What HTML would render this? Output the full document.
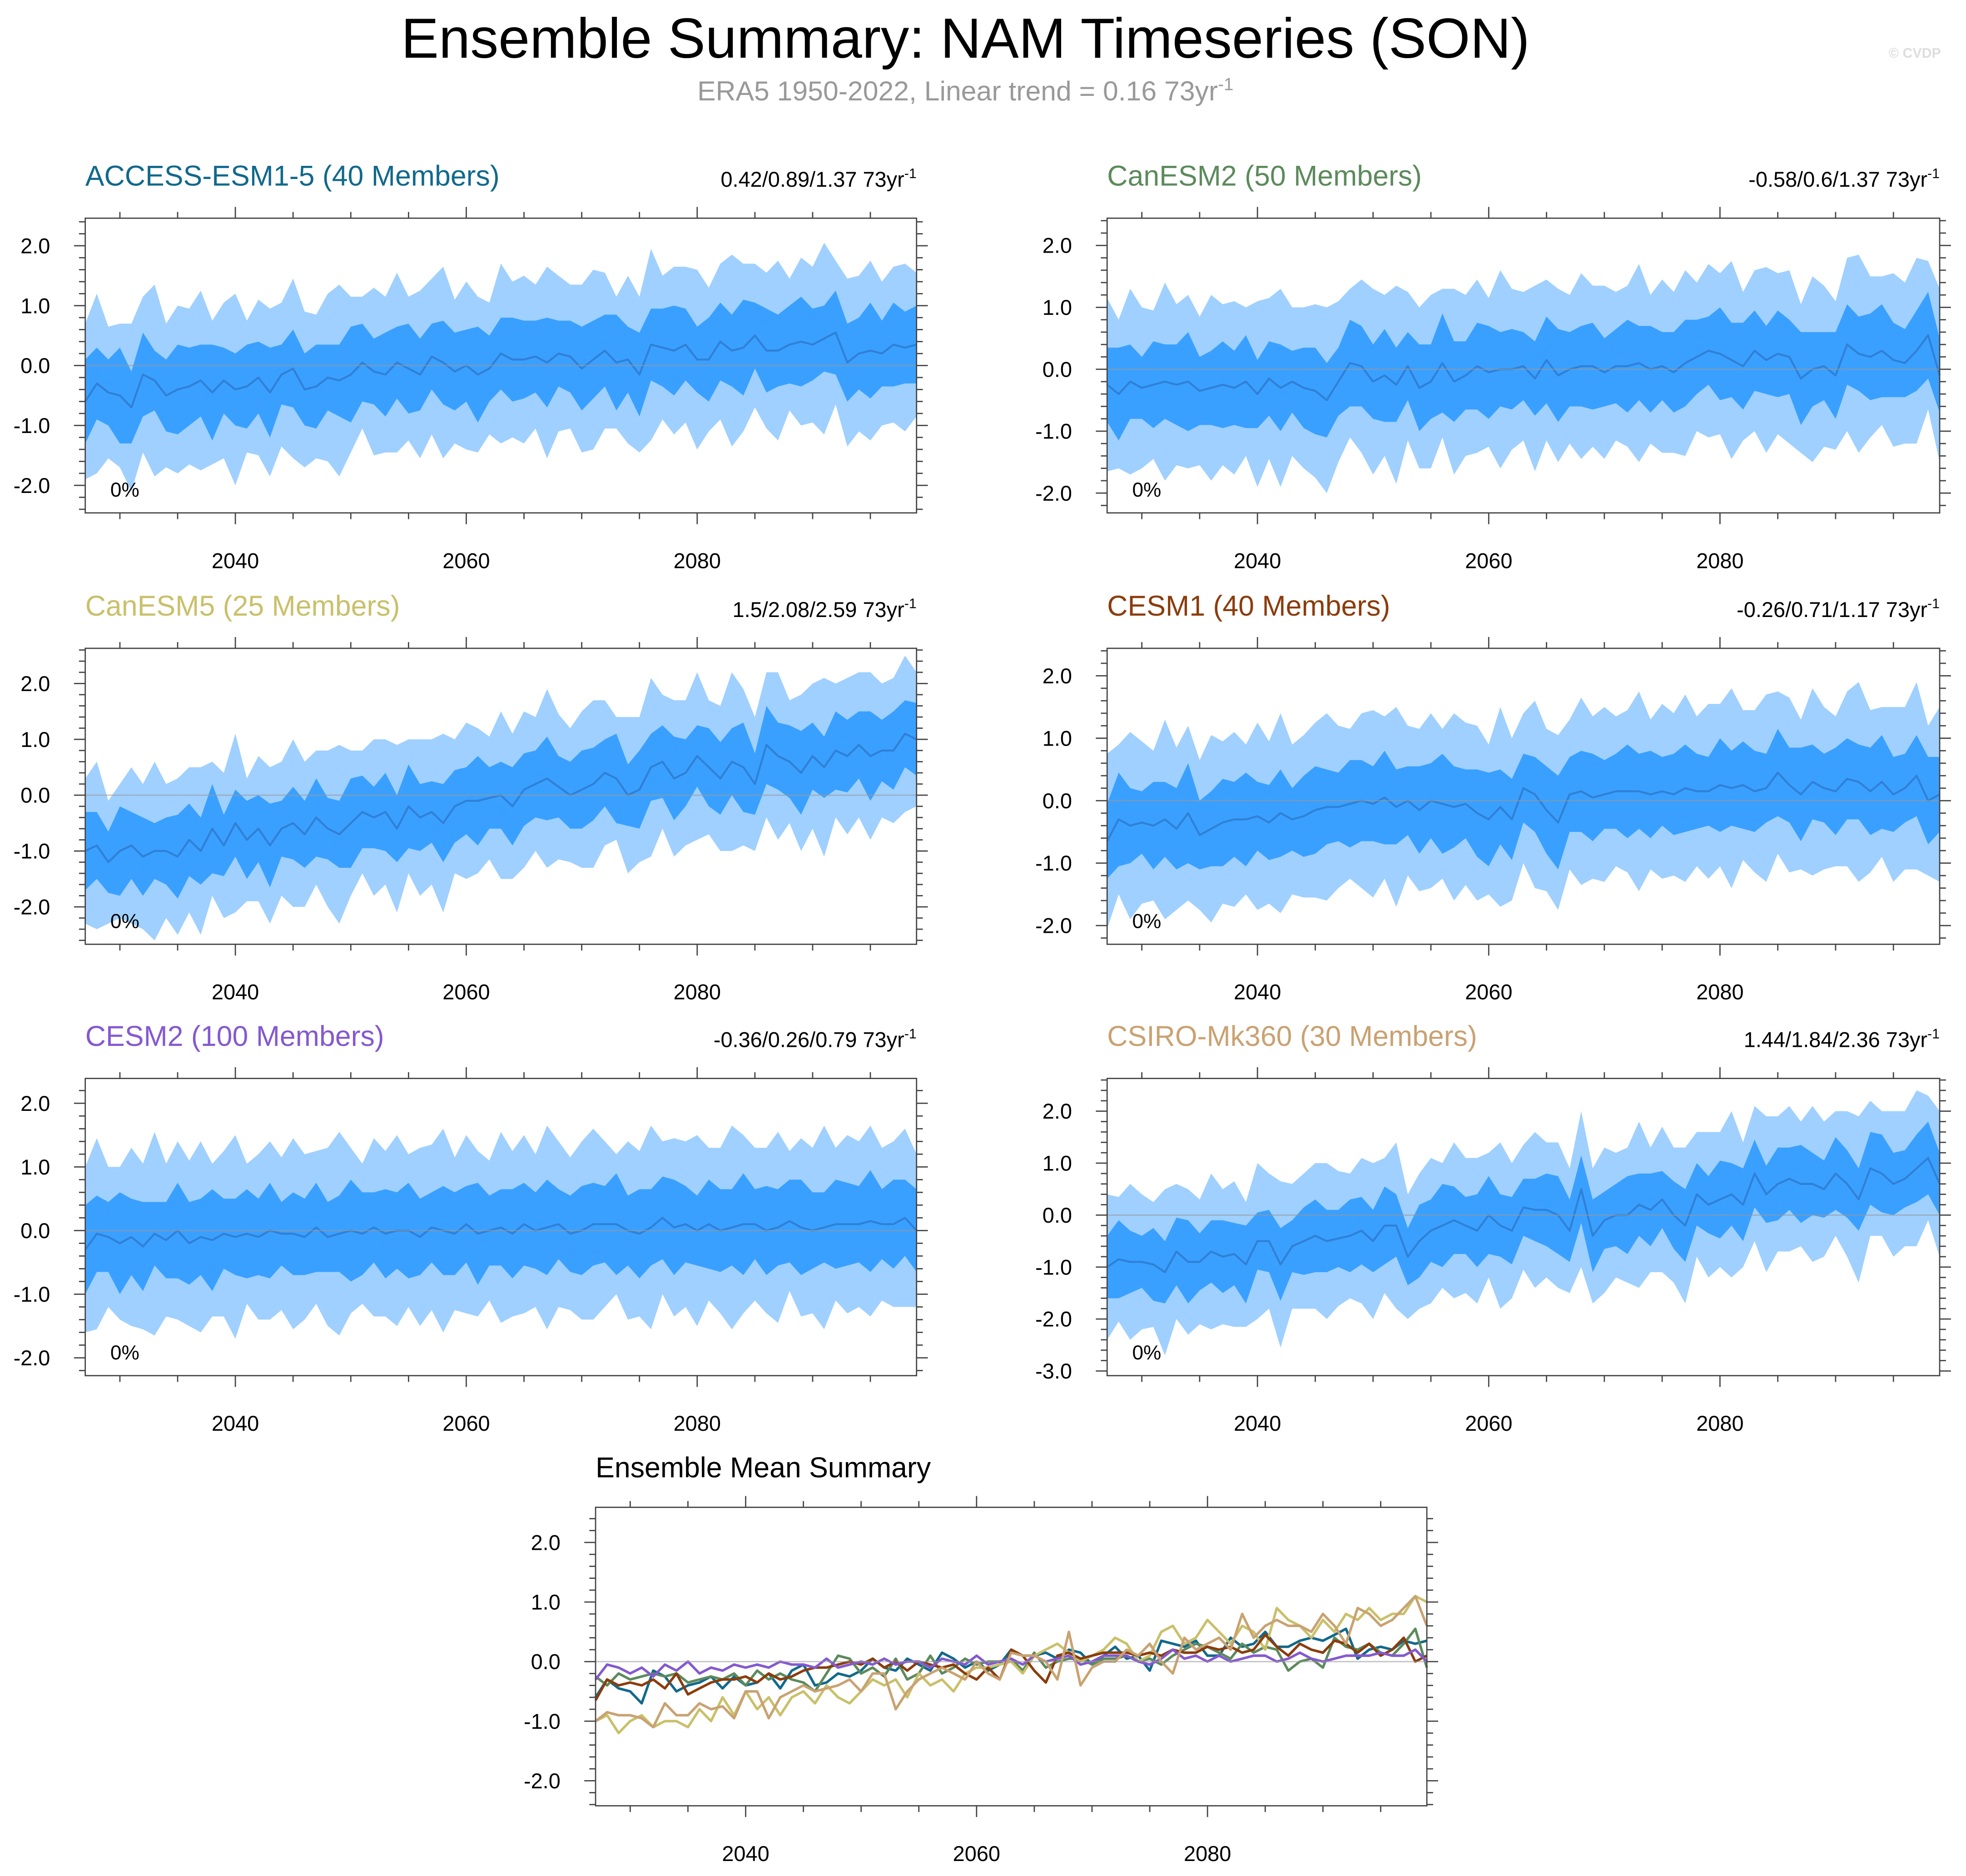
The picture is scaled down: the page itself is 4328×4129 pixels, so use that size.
<!DOCTYPE html>
<html><head><meta charset="utf-8">
<style>
html,body{margin:0;padding:0;background:#fff;}
svg{display:block;font-family:"Liberation Sans",sans-serif;}
</style></head>
<body>
<svg id="chart" width="4328" height="4129" viewBox="0 0 1568 1496" preserveAspectRatio="none" xmlns="http://www.w3.org/2000/svg">
<rect width="1568" height="1496" fill="#fff"/>
<text x="770" y="46" font-size="45" text-anchor="middle" fill="#000">Ensemble Summary: NAM Timeseries (SON)</text>
<text x="770" y="80" font-size="22" text-anchor="middle" fill="#999">ERA5 1950-2022, Linear trend = 0.16 73yr<tspan dy="-8" font-size="14">-1</tspan></text>
<text x="1548" y="46" font-size="11" text-anchor="end" fill="#ddd" font-weight="bold">© CVDP</text>
</svg>
<script>
const years0 = 2027, years1 = 2099;
const xTicks = [2040, 2060, 2080];
const meanAccess = [-0.6,-0.3,-0.45,-0.5,-0.7,-0.15,-0.25,-0.5,-0.4,-0.35,
-0.25,-0.45,-0.25,-0.4,-0.35,-0.2,-0.45,-0.15,-0.05,-0.4,
-0.35,-0.2,-0.25,-0.15,0.05,-0.1,-0.15,0.05,-0.05,-0.15,
0.15,0.05,-0.1,0.0,-0.15,-0.05,0.2,0.1,0.1,0.15,
0.05,0.2,0.15,-0.05,0.1,0.25,0.05,0.1,-0.15,0.35,
0.3,0.25,0.35,0.1,0.1,0.4,0.25,0.3,0.5,0.25,
0.25,0.35,0.4,0.35,0.45,0.55,0.05,0.2,0.25,0.2,
0.35,0.3,0.35];
const meanCanESM2 = [-0.25,-0.4,-0.2,-0.3,-0.25,-0.2,-0.25,-0.2,-0.35,-0.3,
-0.25,-0.3,-0.2,-0.4,-0.15,-0.3,-0.2,-0.3,-0.35,-0.5,
-0.2,0.1,0.05,-0.2,-0.1,-0.25,0.05,-0.3,-0.2,0.1,
-0.2,-0.1,0.05,-0.05,0.0,0.0,0.05,-0.15,0.15,-0.1,
0.0,0.05,0.05,-0.05,0.05,0.05,0.1,0.0,0.05,-0.05,
0.1,0.2,0.3,0.25,0.15,0.05,0.3,0.15,0.25,0.2,
-0.15,0.0,0.05,-0.1,0.4,0.25,0.2,0.3,0.15,0.1,
0.3,0.55,-0.1];
const meanCanESM5 = [-1.0,-0.9,-1.2,-1.0,-0.9,-1.1,-1.0,-1.0,-1.1,-0.8,
-1.0,-0.6,-0.9,-0.5,-0.8,-0.6,-0.9,-0.6,-0.5,-0.7,
-0.4,-0.6,-0.7,-0.5,-0.3,-0.4,-0.3,-0.6,-0.2,-0.4,
-0.3,-0.5,-0.2,-0.1,-0.1,-0.05,0.0,-0.2,0.1,0.2,
0.3,0.15,0.0,0.1,0.2,0.4,0.3,0.0,0.1,0.5,
0.6,0.3,0.4,0.7,0.5,0.3,0.6,0.5,0.2,0.9,
0.7,0.6,0.4,0.7,0.5,0.8,0.7,0.9,0.7,0.8,
0.8,1.1,1.0];
const meanCESM1 = [-0.65,-0.3,-0.4,-0.35,-0.4,-0.3,-0.45,-0.2,-0.55,-0.45,
-0.35,-0.3,-0.3,-0.25,-0.35,-0.2,-0.3,-0.25,-0.15,-0.1,
-0.1,-0.05,0.0,-0.05,0.05,-0.1,0.0,-0.15,0.0,-0.05,
-0.1,-0.05,-0.2,-0.3,-0.1,-0.3,0.2,0.1,-0.15,-0.35,
0.1,0.15,0.05,0.1,0.15,0.15,0.15,0.1,0.15,0.1,
0.2,0.15,0.15,0.25,0.2,0.25,0.15,0.2,0.45,0.25,
0.1,0.3,0.2,0.15,0.35,0.3,0.15,0.3,0.1,0.2,
0.4,0.0,0.1];
const meanCESM2 = [-0.3,-0.05,-0.1,-0.2,-0.1,-0.25,-0.05,-0.15,0.0,-0.2,
-0.1,-0.15,-0.05,-0.1,-0.05,-0.1,0.0,-0.05,-0.05,-0.1,
0.05,-0.1,-0.05,0.0,-0.05,0.05,-0.05,0.0,0.0,-0.1,
0.05,0.0,-0.05,0.1,-0.05,0.0,0.05,-0.05,0.1,0.0,
0.05,0.1,-0.05,0.0,0.1,0.1,0.1,0.0,-0.05,0.05,
0.2,0.05,0.1,0.0,0.1,0.0,0.05,0.1,0.1,0.0,
0.05,0.15,0.05,0.0,0.05,0.1,0.1,0.1,0.15,0.1,
0.1,0.2,0.0];
const meanCSIRO = [-1.0,-0.85,-0.9,-0.9,-0.95,-1.1,-0.7,-0.9,-0.9,-0.7,
-0.8,-0.75,-0.95,-0.5,-0.5,-0.95,-0.6,-0.5,-0.4,-0.5,
-0.45,-0.4,-0.3,-0.5,-0.2,-0.2,-0.8,-0.5,-0.3,-0.2,
-0.1,-0.2,-0.3,0.0,-0.2,-0.3,0.15,0.1,0.1,0.0,
-0.3,0.5,-0.4,-0.1,0.0,0.0,0.2,0.1,0.3,0.0,
-0.2,0.4,0.2,0.3,0.4,0.2,0.8,0.4,0.6,0.7,
0.6,0.6,0.5,0.8,0.6,0.3,0.9,0.8,0.6,0.7,
0.9,1.1,0.6];
const innerSpreadA = [0.7,0.6,0.55,0.8,0.6,0.7,0.5,0.6,0.75,0.65,
0.6,0.8,0.55,0.6,0.7,0.6,0.75,0.5,0.65,0.6,
0.7,0.55,0.6,0.8,0.65,0.55,0.7,0.6,0.75,0.6,
0.55,0.7,0.65,0.6,0.8,0.55,0.6,0.7,0.65,0.6,
0.75,0.55,0.6,0.7,0.65,0.6,0.8,0.55,0.7,0.6,
0.65,0.75,0.6,0.55,0.7,0.65,0.6,0.8,0.55,0.7,
0.6,0.65,0.75,0.6,0.55,0.7,0.65,0.6,0.8,0.55,
0.7,0.6,0.65];
const outerSpreadA = [1.3,1.5,1.1,1.2,1.4,1.3,1.6,1.2,1.4,1.3,
1.5,1.2,1.3,1.6,1.1,1.3,1.4,1.2,1.5,1.3,
1.2,1.4,1.6,1.3,1.1,1.4,1.3,1.5,1.2,1.4,
1.3,1.6,1.2,1.4,1.3,1.1,1.5,1.3,1.4,1.2,
1.6,1.3,1.2,1.4,1.5,1.3,1.1,1.4,1.3,1.6,
1.2,1.4,1.3,1.5,1.2,1.3,1.6,1.4,1.2,1.3,
1.5,1.1,1.4,1.3,1.6,1.2,1.4,1.3,1.5,1.2,
1.3,1.4,1.2];
const innerSpreadB = [0.6,0.75,0.6,0.5,0.7,0.6,0.65,0.8,0.55,0.6,
0.7,0.6,0.75,0.55,0.6,0.7,0.5,0.65,0.7,0.6,
0.55,0.7,0.65,0.6,0.75,0.6,0.55,0.7,0.6,0.8,
0.65,0.55,0.7,0.75,0.6,0.65,0.55,0.6,0.7,0.75,
0.6,0.65,0.7,0.55,0.6,0.75,0.6,0.7,0.55,0.65,
0.7,0.6,0.55,0.75,0.6,0.7,0.65,0.55,0.7,0.6,
0.75,0.6,0.55,0.7,0.65,0.6,0.7,0.75,0.6,0.55,
0.65,0.7,0.6];
const outerSpreadB = [1.4,1.2,1.5,1.3,1.2,1.6,1.3,1.4,1.2,1.5,
1.3,1.4,1.2,1.5,1.3,1.6,1.2,1.3,1.4,1.5,
1.3,1.2,1.4,1.5,1.3,1.6,1.2,1.3,1.4,1.2,
1.5,1.3,1.4,1.2,1.6,1.3,1.2,1.5,1.3,1.4,
1.2,1.5,1.3,1.4,1.2,1.3,1.6,1.2,1.4,1.3,
1.5,1.2,1.4,1.3,1.6,1.2,1.3,1.5,1.3,1.4,
1.2,1.5,1.3,1.2,1.4,1.6,1.3,1.2,1.4,1.3,
1.5,1.2,1.4];
const modelNames = ["ACCESS-ESM1-5 (40 Members)","CanESM2 (50 Members)","CanESM5 (25 Members)","CESM1 (40 Members)","CESM2 (100 Members)","CSIRO-Mk360 (30 Members)"];
const trendLabels = ["0.42/0.89/1.37","-0.58/0.6/1.37","1.5/2.08/2.59","-0.26/0.71/1.17","-0.36/0.26/0.79","1.44/1.84/2.36"];
const yTicksStd = [2,1,0,-1,-2];
const yTicksCsiro = [2,1,0,-1,-2,-3];

const NS = "http://www.w3.org/2000/svg";
const svg = document.getElementById('chart');
function mk(tag, attrs, parent){ const e=document.createElementNS(NS,tag); for(const k in attrs) e.setAttribute(k,attrs[k]); (parent||svg).appendChild(e); return e; }

const colors = ["#11698c","#5c8a5c","#c9c06a","#8b3c0c","#8459d0","#c9a272"];
const means = [meanAccess, meanCanESM2, meanCanESM5, meanCESM1, meanCESM2, meanCSIRO];
const inners = [innerSpreadA, innerSpreadB, innerSpreadA, innerSpreadB, innerSpreadA, innerSpreadB];
const outers = [outerSpreadA, outerSpreadB, outerSpreadA, outerSpreadB, outerSpreadA, outerSpreadB];
const panels = [
 {x:68,y:174,w:663,h:235,ymin:-2.46,ymax:2.46,ticks:yTicksStd},
 {x:883,y:174,w:664,h:235,ymin:-2.32,ymax:2.44,ticks:yTicksStd},
 {x:68,y:517,w:663,h:236,ymin:-2.67,ymax:2.63,ticks:yTicksStd},
 {x:883,y:517,w:664,h:236,ymin:-2.3,ymax:2.44,ticks:yTicksStd},
 {x:68,y:860,w:663,h:237,ymin:-2.28,ymax:2.39,ticks:yTicksStd},
 {x:883,y:860,w:664,h:237,ymin:-3.09,ymax:2.63,ticks:yTicksCsiro}
];

function axes(p){
  const X = yr => p.x + (yr-years0)/(years1-years0)*p.w;
  const Y = v => p.y + (p.ymax-v)/(p.ymax-p.ymin)*p.h;
  return {X,Y};
}
function frame(p, g, X, Y){
  const z = mk('line',{x1:p.x,x2:p.x+p.w,y1:Y(0),y2:Y(0),stroke:'#999','stroke-width':1,opacity:0.6},g);
  
  
  mk('rect',{x:p.x,y:p.y,width:p.w,height:p.h,fill:'none',stroke:'#444','stroke-width':1},g);
  for(let yr=2030; yr<=2095; yr+=5){
    const major = xTicks.includes(yr);
    const L = major?9:5;
    mk('line',{x1:X(yr),x2:X(yr),y1:p.y+p.h,y2:p.y+p.h+L,stroke:'#444','stroke-width':1},g);
    mk('line',{x1:X(yr),x2:X(yr),y1:p.y,y2:p.y-L,stroke:'#444','stroke-width':1},g);
  }
  xTicks.forEach(yr=>{
    const t=mk('text',{x:X(yr),y:p.y+p.h+44,'font-size':17,'text-anchor':'middle',fill:'#000'},g);
    t.textContent=yr;
    
    
  });
  const tmin=Math.ceil(p.ymin*5), tmax=Math.floor(p.ymax*5);
  for(let i=tmin;i<=tmax;i++){
    const v=i/5, major=(i%5===0), L=major?9:5;
    mk('line',{x1:p.x,x2:p.x-L,y1:Y(v),y2:Y(v),stroke:'#444','stroke-width':1},g);
    mk('line',{x1:p.x+p.w,x2:p.x+p.w+L,y1:Y(v),y2:Y(v),stroke:'#444','stroke-width':1},g);
  }
  p.ticks.forEach(v=>{
    const t=mk('text',{x:p.x-28,y:Y(v)+6,'font-size':17,'text-anchor':'end',fill:'#000'},g);
    t.textContent=v.toFixed(1);
    
    
  });
}
function band(arrLo, arrHi, X, g, fill, name){
  let d='';
  arrHi.forEach((v,i)=>{ d+=(i?'L':'M')+X(years0+i).toFixed(1)+','+v.toFixed(1); });
  for(let i=arrLo.length-1;i>=0;i--) d+='L'+X(years0+i).toFixed(1)+','+arrLo[i].toFixed(1);
  const e=mk('path',{d:d+'Z',fill:fill,stroke:'none'},g);
  
  
}
function line(arr, X, Y, g, color, w, name){
  const d=arr.map((v,i)=>(i?'L':'M')+X(years0+i).toFixed(1)+','+Y(v).toFixed(1)).join('');
  const e=mk('path',{d:d,fill:'none',stroke:color,'stroke-width':w,'stroke-linejoin':'round'},g);
  
  
}

panels.forEach((p,k)=>{
  const g=mk('g',{});
  
  
  const {X,Y}=axes(p);
  const m=means[k], si=inners[k], so=outers[k];
  band(m.map((v,i)=>Y(v-so[i])), m.map((v,i)=>Y(v+so[i])), X, g, '#9fd0ff', 'outer-range-band');
  band(m.map((v,i)=>Y(v-si[i])), m.map((v,i)=>Y(v+si[i])), X, g, '#3aa0ff', 'inner-range-band');
  line(m, X, Y, g, '#2f80d6', 1.6, 'ensemble-mean-line');
  frame(p,g,X,Y);
  const t=mk('text',{x:p.x,y:p.y-26,'font-size':22.7,fill:colors[k]},g);
  t.textContent=modelNames[k];
  
  
  const tr=mk('text',{x:p.x+p.w,y:p.y-25,'font-size':17,'text-anchor':'end',fill:'#000'},g);
  tr.innerHTML=trendLabels[k]+' 73yr<tspan dy="-7" font-size="11">-1</tspan>';
  
  
  const pc=mk('text',{x:p.x+20,y:p.y+p.h-13,'font-size':16,fill:'#000'},g);
  pc.textContent='0%';
  
  
});

const pb={x:475,y:1202,w:663,h:238,ymin:-2.42,ymax:2.59,ticks:yTicksStd};
const gb=mk('g',{});


const ab=axes(pb);
means.forEach((m,k)=>line(m, ab.X, ab.Y, gb, colors[k], 2, 'summary-line-'+(k+1)));
frame(pb,gb,ab.X,ab.Y);
const bt=mk('text',{x:pb.x,y:pb.y-24,'font-size':22.7,fill:'#000'},gb);
bt.textContent='Ensemble Mean Summary';


</script>
</body></html>
